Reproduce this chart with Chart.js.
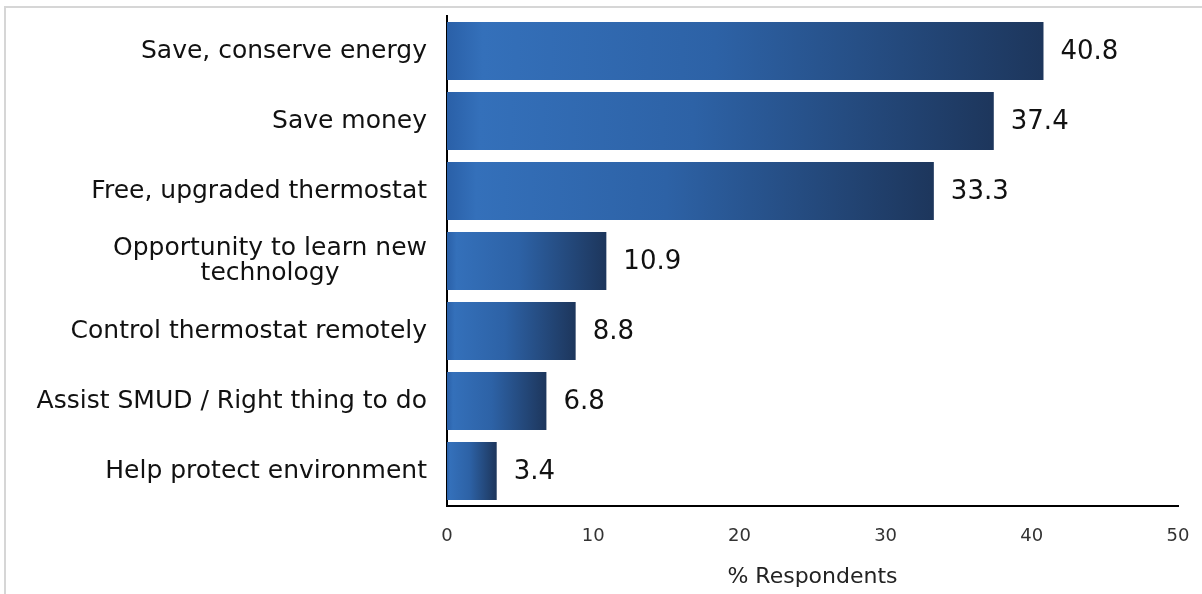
<!DOCTYPE html>
<html>
<head>
<meta charset="utf-8">
<title>Reasons for participating</title>
<script src="https://cdn.jsdelivr.net/npm/chart.js@4/dist/chart.umd.min.js"></script>
<style>
  html, body { margin: 0; padding: 0; background: #fff; }
  #wrap { position: relative; width: 1202px; height: 594px; overflow: hidden; }
  #frame {
    position: absolute; left: 4px; top: 6px; width: 1300px; height: 700px;
    border-left: 2px solid #d6d6d6; border-top: 2px solid #d6d6d6;
  }
  #reasons { position: absolute; left: 0; top: 0; }
</style>
</head>
<body>
<div id="wrap">
  <div id="frame"></div>
  <canvas id="reasons" width="1202" height="594"></canvas>
</div>
<script>
// reasons given, top to bottom; the long one wraps onto two lines
const categories = [
  ['Save, conserve energy'],
  ['Save money'],
  ['Free, upgraded thermostat'],
  ['Opportunity to learn new', 'technology'],
  ['Control thermostat remotely'],
  ['Assist SMUD / Right thing to do'],
  ['Help protect environment']
];
const percents = [40.8, 37.4, 33.3, 10.9, 8.8, 6.8, 3.4];
const xMin = 0;
const xMax = 50;
const xStep = 10;
const axisTitle = '% Respondents';

const FONT = '"DejaVu Sans", Verdana, sans-serif';

// light-to-navy fade along each bar, from the axis to the bar's end
function barFill(ctx) {
  const chart = ctx.chart;
  if (!chart.chartArea || ctx.dataIndex === undefined) return '#2b5c9c';
  const xs = chart.scales.x;
  const x0 = xs.getPixelForValue(0);
  const x1 = xs.getPixelForValue(percents[ctx.dataIndex]);
  const g = chart.ctx.createLinearGradient(x0, 0, x1, 0);
  g.addColorStop(0, '#2a60a8');
  g.addColorStop(0.06, '#3470ba');
  g.addColorStop(0.45, '#2d62a6');
  g.addColorStop(1, '#1d365c');
  return g;
}

// category labels: right-aligned block, lines centred within the block
const categoryLabels = {
  id: 'categoryLabels',
  afterDraw(chart) {
    const { ctx, scales: { x, y } } = chart;
    ctx.save();
    ctx.font = '25px ' + FONT;
    ctx.fillStyle = '#111';
    ctx.textBaseline = 'middle';
    ctx.textAlign = 'center';
    const lineH = 25;
    categories.forEach((lines, i) => {
      const cy = y.getPixelForValue(i);
      const w = Math.max(...lines.map(l => ctx.measureText(l).width));
      const cx = x.left - 20 - w / 2;
      const top = cy - (lines.length - 1) * lineH / 2;
      lines.forEach((l, j) => ctx.fillText(l, cx, top + j * lineH));
    });
    ctx.restore();
  }
};

// value printed just past the end of each bar
const valueLabels = {
  id: 'valueLabels',
  afterDatasetsDraw(chart) {
    const { ctx } = chart;
    const meta = chart.getDatasetMeta(0);
    ctx.save();
    ctx.font = '26px ' + FONT;
    ctx.fillStyle = '#111';
    ctx.textBaseline = 'middle';
    ctx.textAlign = 'left';
    meta.data.forEach((bar, i) => {
      ctx.fillText(percents[i].toFixed(1), bar.x + 17, bar.y + 1);
    });
    ctx.restore();
  }
};

new Chart(document.getElementById('reasons').getContext('2d'), {
  type: 'bar',
  data: {
    labels: categories,
    datasets: [{
      data: percents,
      backgroundColor: barFill,
      borderWidth: 0,
      barPercentage: 0.83,
      categoryPercentage: 1
    }]
  },
  options: {
    indexAxis: 'y',
    responsive: false,
    animation: false,
    layout: { padding: { top: 16, right: 24, left: 0, bottom: 0 } },
    plugins: {
      legend: { display: false },
      tooltip: { enabled: false }
    },
    scales: {
      x: {
        min: xMin,
        max: xMax,
        grid: { display: false, drawTicks: false },
        border: { display: true, color: '#000', width: 2 },
        ticks: {
          stepSize: xStep,
          padding: 20,
          color: '#333',
          font: { family: FONT, size: 18 }
        },
        title: {
          display: true,
          text: axisTitle,
          color: '#222',
          font: { family: FONT, size: 22 },
          padding: { top: 4, bottom: 4 }
        },
        afterFit(scale) {
          scale.height = 88;
          // tick padding is vertical here, keep it out of the side margins
          scale.paddingLeft = 0;
          scale.paddingRight = 0;
        }
      },
      y: {
        grid: { display: false, drawTicks: false },
        border: { display: true, color: '#000', width: 2 },
        ticks: { display: false },
        afterFit(scale) { scale.width = 447; }
      }
    }
  },
  plugins: [categoryLabels, valueLabels]
});
</script>
</body>
</html>
